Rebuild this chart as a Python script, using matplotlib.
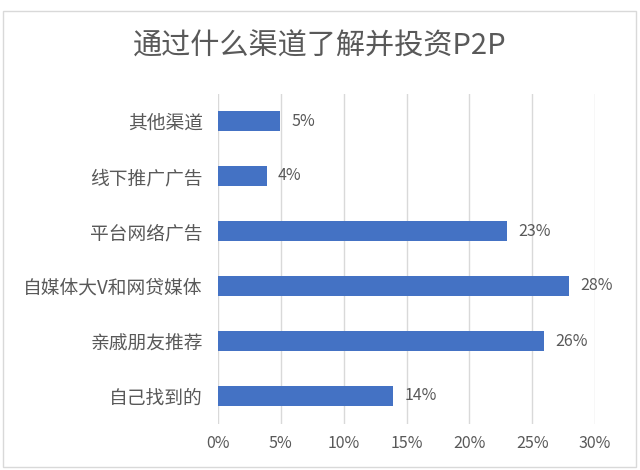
import matplotlib
matplotlib.use("Agg")
import matplotlib.pyplot as plt
from matplotlib.patches import Rectangle

plt.rcParams['font.family'] = ['Noto Sans CJK SC', 'DejaVu Sans']

title = "通过什么渠道了解并投资P2P"
categories = ["其他渠道", "线下推广广告", "平台网络广告", "自媒体大V和网贷媒体", "亲戚朋友推荐", "自己找到的"]
values = [4.94, 3.9, 23.0, 27.97, 25.97, 13.94]
value_labels = ["5%", "4%", "23%", "28%", "26%", "14%"]
xticks = [0, 5, 10, 15, 20, 25, 30]
xtick_labels = ["0%", "5%", "10%", "15%", "20%", "25%", "30%"]

text_color = "#595959"
bar_color = "#4472C4"
grid_color = "#D9D9D9"

fig = plt.figure(figsize=(6.4, 4.7), dpi=100)
fig.patch.set_facecolor("white")
fig.patches.append(Rectangle((3/640, 3/470), 633/640, 456/470, transform=fig.transFigure,
                             fill=False, edgecolor=grid_color, linewidth=1.0))

ax = fig.add_axes([218/640, 1 - 423.5/470, (595-218)/640, 330/470])
y = list(range(len(categories)))
ax.barh(y, values, height=0.36, color=bar_color, zorder=3)
ax.set_ylim(len(categories) - 0.5, -0.5)
ax.set_xlim(0, 30)
ax.set_xticks(xticks)
ax.set_xticklabels(xtick_labels, color=text_color, fontsize=11.5)
ax.set_yticks(y)
ax.set_yticklabels(categories, color=text_color, fontsize=13.5)
ax.tick_params(axis='both', length=0)
ax.tick_params(axis='x', pad=8)
ax.tick_params(axis='y', pad=11)
for s in ax.spines.values():
    s.set_visible(False)
ax.grid(axis='x', color=grid_color, linewidth=1.0, zorder=0)
ax.set_axisbelow(True)

for yi, v, lab in zip(y, values, value_labels):
    ax.annotate(lab, xy=(v, yi), xytext=(8, 0), textcoords='offset points',
                va='center', ha='left', color=text_color, fontsize=11.5)

fig.text(0.5, 1 - 47/470, title, ha='center', va='center', color=text_color, fontsize=21)

fig.savefig("out.png", dpi=100)
